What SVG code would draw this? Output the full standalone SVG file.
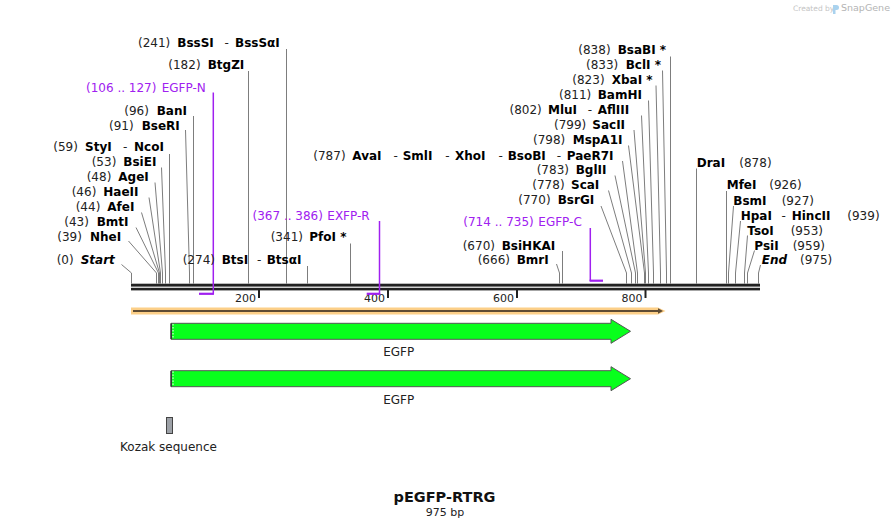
<svg xmlns="http://www.w3.org/2000/svg" width="891" height="528" viewBox="0 0 891 528">
<style>
text{font-family:"DejaVu Sans","Liberation Sans",sans-serif;font-size:12px;fill:#222}
.b{font-weight:bold;fill:#000}
.i{font-style:italic}
.p{fill:#a020f0}
.t{font-size:11px}
#connectors line,#connectors polyline{stroke:#7d7d7d;stroke-width:1;fill:none}
.pl{stroke:#a020f0;stroke-width:1.5;fill:none}
.pr{fill:#a020f0}
.cds{fill:#08ff1c;stroke:#555;stroke-width:1}
</style>
<rect width="891" height="528" fill="#fff"/>

<g id="watermark">
<text x="793" y="10.5" style="font-size:7.5px;fill:#c4c4c4">Created by</text>
<path d="M833,5 h3.5 a2.5,2.5 0 0 1 0,5 h-1 v4 h-2.5 z" fill="#a9d2ee"/>
<text x="841" y="11" style="font-size:9.5px;fill:#b4b4b4">SnapGene</text>
</g>

<g id="connectors">
<!-- vertical-only -->
<line x1="286.5" y1="49" x2="286.5" y2="283.5"/>
<line x1="248.5" y1="71" x2="248.5" y2="283.5"/>
<line x1="193.5" y1="116" x2="193.5" y2="283.5"/>
<line x1="169.5" y1="154" x2="169.5" y2="283.5"/>
<line x1="307.5" y1="266" x2="307.5" y2="283.5"/>
<line x1="350.5" y1="243.5" x2="350.5" y2="283.5"/>
<line x1="562.5" y1="251" x2="562.5" y2="283.5"/>
<line x1="670.5" y1="56.5" x2="670.5" y2="283.5"/>
<line x1="696.5" y1="168.5" x2="696.5" y2="283.5"/>
<line x1="726.5" y1="191" x2="726.5" y2="283.5"/>
<!-- angled -->
<polyline points="121.5,264.5 131.5,273 131.5,283.5"/>
<polyline points="128.5,241 156.5,273 156.5,283.5"/>
<polyline points="136,227.5 158.5,273 158.5,283.5"/>
<polyline points="141.5,212.5 159.5,273 159.5,283.5"/>
<polyline points="149,197.5 160.5,273 160.5,283.5"/>
<polyline points="155,182.5 162.5,273 162.5,283.5"/>
<polyline points="161.5,167.5 165.5,273 165.5,283.5"/>
<polyline points="185.5,130 189.5,273 189.5,283.5"/>
<polyline points="556.5,264 559.5,273 559.5,283.5"/>
<polyline points="601,206 626.5,273 626.5,283.5"/>
<polyline points="608.5,190.5 631.5,273 631.5,283.5"/>
<polyline points="615,175.5 635.5,273 635.5,283.5"/>
<polyline points="622.5,161 637.5,273 637.5,283.5"/>
<polyline points="628.5,145.5 644.5,273 644.5,283.5"/>
<polyline points="634,130 645.5,273 645.5,283.5"/>
<polyline points="641.5,115.5 648.5,273 648.5,283.5"/>
<polyline points="648.5,100.5 653.5,273 653.5,283.5"/>
<polyline points="656,85.5 660.5,273 660.5,283.5"/>
<polyline points="662.5,70.5 666.5,273 666.5,283.5"/>
<polyline points="733.5,206 728.5,273 728.5,283.5"/>
<polyline points="740.5,221 735.5,273 735.5,283.5"/>
<polyline points="747.5,235.5 744.5,273 744.5,283.5"/>
<polyline points="754.5,250.5 747.5,273 747.5,283.5"/>
<polyline points="760.5,265 758.5,273 758.5,283.5"/>
</g>

<g id="backbone">
<rect x="131" y="283.7" width="629" height="2.9" fill="#222"/>
<rect x="131" y="287.8" width="629" height="2.6" fill="#222"/>
<rect x="258" y="290" width="2" height="8" fill="#222"/>
<rect x="387" y="290" width="2" height="8" fill="#222"/>
<rect x="516" y="290" width="2" height="8" fill="#222"/>
<rect x="644.5" y="290" width="2" height="8" fill="#222"/>
<text class="t" x="256" y="301.5" text-anchor="end">200</text>
<text class="t" x="385" y="301.5" text-anchor="end">400</text>
<text class="t" x="514" y="301.5" text-anchor="end">600</text>
<text class="t" x="642.5" y="301.5" text-anchor="end">800</text>
</g>

<g id="primer-EGFP-N">
<line class="pl" x1="213.3" y1="92.5" x2="213.3" y2="294.5"/>
<rect class="pr" x="199" y="292.7" width="14.8" height="2.2"/>
<text class="p" x="86" y="91.8">(106 .. 127)<tspan x="161.7">EGFP-N</tspan></text>
</g>
<g id="primer-EXFP-R">
<line class="pl" x1="379.5" y1="221" x2="379.5" y2="294.5"/>
<rect class="pr" x="366.7" y="292.7" width="13.5" height="2.2"/>
<text class="p" x="252.5" y="219.5">(367 .. 386)<tspan x="327.3">EXFP-R</tspan></text>
</g>
<g id="primer-EGFP-C">
<line class="pl" x1="590.3" y1="228" x2="590.3" y2="281"/>
<rect class="pr" x="589.6" y="279.6" width="13.4" height="2.2"/>
<text class="p" x="463.3" y="226.2">(714 .. 735)<tspan x="538.3">EGFP-C</tspan></text>
</g>

<g id="site-BssSI"><text x="138" y="46.8">(241)<tspan class="b" x="177.3">BssSI</tspan><tspan x="224.5">-</tspan><tspan class="b" x="235">BssSαI</tspan></text></g>
<g id="site-BtgZI"><text x="168.3" y="68.8">(182)<tspan class="b" x="207.7">BtgZI</tspan></text></g>
<g id="site-BanI"><text x="124.3" y="114.5">(96)<tspan class="b" x="156.7">BanI</tspan></text></g>
<g id="site-BseRI"><text x="109" y="129.5">(91)<tspan class="b" x="141.7">BseRI</tspan></text></g>
<g id="site-StyI"><text x="53.3" y="151.3">(59)<tspan class="b" x="85">StyI</tspan><tspan x="123">-</tspan><tspan class="b" x="134">NcoI</tspan></text></g>
<g id="site-BsiEI"><text x="91.7" y="166.2">(53)<tspan class="b" x="123.3">BsiEI</tspan></text></g>
<g id="site-AgeI"><text x="86.7" y="181.2">(48)<tspan class="b" x="118.3">AgeI</tspan></text></g>
<g id="site-HaeII"><text x="71.7" y="196.2">(46)<tspan class="b" x="103.3">HaeII</tspan></text></g>
<g id="site-AfeI"><text x="75.7" y="211.2">(44)<tspan class="b" x="107.3">AfeI</tspan></text></g>
<g id="site-BmtI"><text x="64.3" y="226.2">(43)<tspan class="b" x="96.7">BmtI</tspan></text></g>
<g id="site-NheI"><text x="57.3" y="241.2">(39)<tspan class="b" x="90">NheI</tspan></text></g>
<g id="site-Start"><text x="56.7" y="263.8">(0)<tspan class="b i" x="80.7">Start</tspan></text></g>
<g id="site-BtsI"><text x="182.7" y="263.8">(274)<tspan class="b" x="221.7">BtsI</tspan><tspan x="257">-</tspan><tspan class="b" x="266.7">BtsαI</tspan></text></g>
<g id="site-PfoI"><text x="270.7" y="241.2">(341)<tspan class="b" x="309.3">PfoI *</tspan></text></g>
<g id="site-BsiHKAI"><text x="462.7" y="249.5">(670)<tspan class="b" x="501.7">BsiHKAI</tspan></text></g>
<g id="site-BmrI"><text x="477.7" y="263.8">(666)<tspan class="b" x="516.7">BmrI</tspan></text></g>
<g id="site-AvaI"><text x="313.3" y="159.5">(787)<tspan class="b" x="352.3">AvaI</tspan><tspan x="393.5">-</tspan><tspan class="b" x="402.7">SmlI</tspan><tspan x="445.2">-</tspan><tspan class="b" x="455">XhoI</tspan><tspan x="498.5">-</tspan><tspan class="b" x="507.7">BsoBI</tspan><tspan x="556.8">-</tspan><tspan class="b" x="566.7">PaeR7I</tspan></text></g>
<g id="site-BglII"><text x="536.7" y="173.8">(783)<tspan class="b" x="575.7">BglII</tspan></text></g>
<g id="site-ScaI"><text x="532.3" y="189">(778)<tspan class="b" x="571">ScaI</tspan></text></g>
<g id="site-BsrGI"><text x="518.3" y="204.3">(770)<tspan class="b" x="557.7">BsrGI</tspan></text></g>
<g id="site-MspA1I"><text x="533" y="143.8">(798)<tspan class="b" x="572.7">MspA1I</tspan></text></g>
<g id="site-SacII"><text x="554" y="128.8">(799)<tspan class="b" x="592.3">SacII</tspan></text></g>
<g id="site-MluI"><text x="509.5" y="113.8">(802)<tspan class="b" x="548">MluI</tspan><tspan x="587.8">-</tspan><tspan class="b" x="597.7">AflIII</tspan></text></g>
<g id="site-BamHI"><text x="559" y="98.8">(811)<tspan class="b" x="597.7">BamHI</tspan></text></g>
<g id="site-XbaI"><text x="572.3" y="83.8">(823)<tspan class="b" x="611.7">XbaI *</tspan></text></g>
<g id="site-BclI"><text x="586" y="68.8">(833)<tspan class="b" x="625.7">BclI *</tspan></text></g>
<g id="site-BsaBI"><text x="578.3" y="53.8">(838)<tspan class="b" x="617.7">BsaBI *</tspan></text></g>
<g id="site-DraI"><text class="b" x="696.7" y="166.8">DraI<tspan style="font-weight:normal;fill:#222" x="739.3">(878)</tspan></text></g>
<g id="site-MfeI"><text class="b" x="726.7" y="188.8">MfeI<tspan style="font-weight:normal;fill:#222" x="769.3">(926)</tspan></text></g>
<g id="site-BsmI"><text class="b" x="733.3" y="204.5">BsmI<tspan style="font-weight:normal;fill:#222" x="781.7">(927)</tspan></text></g>
<g id="site-HpaI"><text class="b" x="740.7" y="219.5">HpaI<tspan style="font-weight:normal;fill:#222" x="781.5">-</tspan><tspan x="791.7">HincII</tspan><tspan style="font-weight:normal;fill:#222" x="847.3">(939)</tspan></text></g>
<g id="site-TsoI"><text class="b" x="747.3" y="234.5">TsoI<tspan style="font-weight:normal;fill:#222" x="790.7">(953)</tspan></text></g>
<g id="site-PsiI"><text class="b" x="754.3" y="249.5">PsiI<tspan style="font-weight:normal;fill:#222" x="792.7">(959)</tspan></text></g>
<g id="site-End"><text class="b i" x="761.7" y="263.8">End<tspan style="font-weight:normal;font-style:normal;fill:#222" x="800">(975)</tspan></text></g>

<g id="feature-ORF">
<path d="M131,307.5 H658 L665.5,311 L658,314.5 H131 Z" fill="#fccf88"/>
<line x1="133" y1="311" x2="659" y2="311" stroke="#5e4b33" stroke-width="2"/>
<path d="M658,308.3 L663,311 L658,313.7 Z" fill="#5e4b33"/>
</g>

<g id="feature-EGFP-1">
<path class="cds" d="M171,323.3 H611 V319.3 L630.5,331.3 L611,343.3 V339.3 H171 Z"/>
<line x1="171.2" y1="323.5" x2="171.2" y2="339" stroke="#333" stroke-width="1.5"/>
<line x1="173" y1="324" x2="173" y2="339" stroke="#fff" stroke-width="1" stroke-dasharray="1.5,1.5"/>
<text x="398.7" y="356.3" text-anchor="middle">EGFP</text>
</g>

<g id="feature-EGFP-2">
<path class="cds" d="M171,370.7 H611 V366.7 L630.5,378.7 L611,390.7 V386.7 H171 Z"/>
<line x1="171.2" y1="371" x2="171.2" y2="386.4" stroke="#333" stroke-width="1.5"/>
<line x1="173" y1="371.4" x2="173" y2="386.4" stroke="#fff" stroke-width="1" stroke-dasharray="1.5,1.5"/>
<text x="398.7" y="403.5" text-anchor="middle">EGFP</text>
</g>

<g id="feature-Kozak">
<rect x="166.5" y="417.5" width="6" height="16" fill="#9da1a7" stroke="#444" stroke-width="1"/>
<text x="168.5" y="451" text-anchor="middle">Kozak sequence</text>
</g>

<g id="title">
<text x="444.5" y="502" text-anchor="middle" style="font-weight:bold;font-size:14.5px;fill:#111">pEGFP-RTRG</text>
<text x="445" y="515.5" text-anchor="middle" style="font-size:11px">975 bp</text>
</g>
</svg>
